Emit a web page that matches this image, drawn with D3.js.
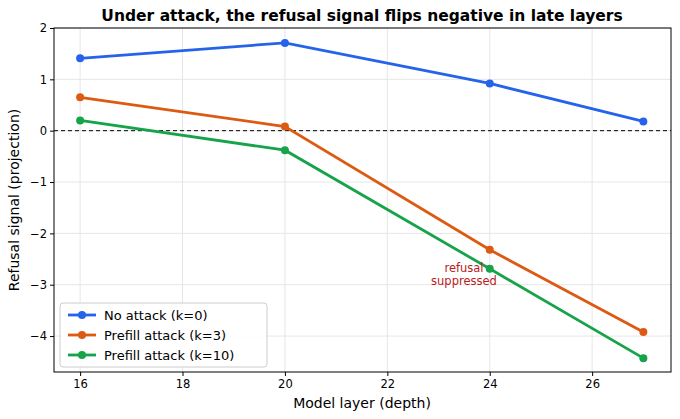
<!DOCTYPE html><html><head><script src="https://cdn.jsdelivr.net/npm/d3@7"></script>
<style>body{margin:0;background:#fff}text{font-family:"DejaVu Sans",sans-serif}</style></head><body>
<svg id="c" width="680" height="419"></svg>
<script>
const layers=[16,20,24,27];
const noAttack=[1.41,1.71,0.92,0.18];
const prefill3=[0.65,0.08,-2.32,-3.92];
const prefill10=[0.20,-0.38,-2.69,-4.43];
const seriesNames=["No attack (k=0)","Prefill attack (k=3)","Prefill attack (k=10)"];
const colors=["#2563eb","#dd5a12","#16a34a"];
const xTicks=[16,18,20,22,24,26], yTicks=[-4,-3,-2,-1,0,1,2];
const svg=d3.select("#c");
const L=54,R=671,T=28,B=372;
const x=d3.scaleLinear().domain([15.49,27.54]).range([L,R]);
const y=d3.scaleLinear().domain([-4.7,2.0]).range([B,T]);
const g=svg.append("g");
g.selectAll(".gx").data(xTicks).join("line").attr("x1",d=>x(d)).attr("x2",d=>x(d)).attr("y1",T).attr("y2",B).attr("stroke","#e6e6e6");
g.selectAll(".gy").data(yTicks).join("line").attr("y1",d=>y(d)).attr("y2",d=>y(d)).attr("x1",L).attr("x2",R).attr("stroke","#e6e6e6");
g.append("line").attr("x1",L).attr("x2",R).attr("y1",y(0)).attr("y2",y(0)).attr("stroke","#000").attr("stroke-dasharray","4,3").attr("stroke-width",1);
const xa=svg.append("g").attr("transform",`translate(0,${B})`).call(d3.axisBottom(x).tickValues(xTicks).tickSize(4).tickPadding(4));
const ya=svg.append("g").attr("transform",`translate(${L},0)`).call(d3.axisLeft(y).tickValues(yTicks).tickSize(4).tickFormat(d=>d<0?"−"+(-d):d));
[xa,ya].forEach(a=>{a.selectAll("text").attr("font-size",11.5).attr("fill","#000");a.select(".domain").remove();});
svg.append("rect").attr("x",L).attr("y",T).attr("width",R-L).attr("height",B-T).attr("fill","none").attr("stroke","#000").attr("stroke-width",1);
[noAttack,prefill3,prefill10].forEach((s,i)=>{
  const pts=layers.map((l,j)=>[l,s[j]]);
  svg.append("path").attr("d",d3.line().x(d=>x(d[0])).y(d=>y(d[1]))(pts)).attr("fill","none").attr("stroke",colors[i]).attr("stroke-width",2.8);
  svg.selectAll(null).data(pts).join("circle").attr("cx",d=>x(d[0])).attr("cy",d=>y(d[1])).attr("r",4).attr("fill",colors[i]);
});
const an=svg.append("text").attr("x",464).attr("y",272).attr("text-anchor","middle").attr("fill","#b91c1c").attr("font-size",11.5);
an.append("tspan").attr("x",464).text("refusal");
an.append("tspan").attr("x",464).attr("dy",13).text("suppressed");
svg.append("text").attr("x",362).attr("y",21).attr("text-anchor","middle").attr("font-weight","bold").attr("font-size",15.5).text("Under attack, the refusal signal flips negative in late layers");
svg.append("text").attr("x",362).attr("y",408).attr("text-anchor","middle").attr("font-size",14).text("Model layer (depth)");
svg.append("text").attr("transform",`translate(19,${(T+B)/2}) rotate(-90)`).attr("text-anchor","middle").attr("font-size",14).text("Refusal signal (projection)");
const lg=svg.append("g").attr("transform","translate(60,303)");
lg.append("rect").attr("width",207).attr("height",64).attr("rx",3).attr("fill","#fff").attr("fill-opacity",0.85).attr("stroke","#ccc");
seriesNames.forEach((n,i)=>{
  const yy=12+i*20;
  lg.append("line").attr("x1",8).attr("x2",36).attr("y1",yy).attr("y2",yy).attr("stroke",colors[i]).attr("stroke-width",2.8);
  lg.append("circle").attr("cx",22).attr("cy",yy).attr("r",4).attr("fill",colors[i]);
  lg.append("text").attr("x",44).attr("y",yy+4.5).attr("font-size",13).text(n);
});
</script></body></html>
